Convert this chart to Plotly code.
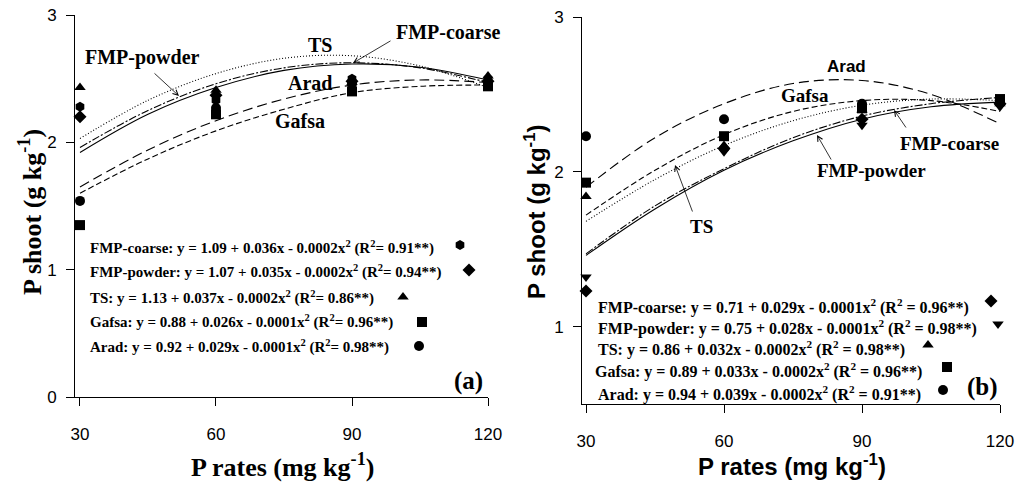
import plotly.graph_objects as go

W, H = 1015, 483

# ---------------- data ----------------
p_rates = [30, 60, 90, 120]
curve_x = [30, 45, 60, 75, 90, 105, 120]
series = ["FMP-coarse", "FMP-powder", "TS", "Gafsa", "Arad"]

# panel (a) observed values
a_fmp_coarse = [2.28, 2.33, 2.50, 2.50]
a_fmp_powder = [2.20, 2.37, 2.48, 2.48]
a_ts = [2.43, 2.41, 2.47, 2.52]
a_gafsa = [1.35, 2.22, 2.40, 2.44]
a_arad = [1.54, 2.27, 2.46, 2.46]
# panel (a) fitted curves
a_fit_fmp_coarse = [1.92, 2.22, 2.43, 2.565, 2.615, 2.59, 2.49]
a_fit_fmp_powder = [1.96, 2.25, 2.46, 2.585, 2.625, 2.585, 2.47]
a_fit_ts = [2.03, 2.33, 2.54, 2.66, 2.68, 2.60, 2.43]
a_fit_gafsa = [1.60, 1.87, 2.09, 2.26, 2.39, 2.44, 2.45]
a_fit_arad = [1.65, 1.94, 2.17, 2.34, 2.45, 2.49, 2.47]

# panel (b) observed values
b_fmp_coarse = [1.23, 2.15, 2.34, 2.44]
b_fmp_powder = [1.32, 2.13, 2.30, 2.42]
b_ts = [1.84, 2.17, 2.40, 2.44]
b_gafsa = [1.93, 2.23, 2.41, 2.47]
b_arad = [2.23, 2.34, 2.44, 2.45]
# panel (b) fitted curves
b_fit_fmp_coarse = [1.46, 1.76, 2.01, 2.20, 2.34, 2.42, 2.45]
b_fit_fmp_powder = [1.47, 1.78, 2.02, 2.22, 2.36, 2.44, 2.48]
b_fit_ts = [1.68, 1.95, 2.17, 2.33, 2.43, 2.47, 2.46]
b_fit_gafsa = [1.72, 2.01, 2.24, 2.39, 2.46, 2.46, 2.39]
b_fit_arad = [1.90, 2.22, 2.44, 2.57, 2.59, 2.50, 2.31]

a_equations = [
    "FMP-coarse: y = 1.09 + 0.036x - 0.0002x<sup>2</sup> (R<sup>2</sup>= 0.91**)",
    "FMP-powder: y = 1.07 + 0.035x - 0.0002x<sup>2</sup> (R<sup>2</sup>= 0.94**)",
    "TS: y = 1.13 + 0.037x - 0.0002x<sup>2</sup> (R<sup>2</sup>= 0.86**)",
    "Gafsa: y = 0.88 + 0.026x - 0.0001x<sup>2</sup> (R<sup>2</sup>= 0.96**)",
    "Arad: y = 0.92 + 0.029x - 0.0001x<sup>2</sup> (R<sup>2</sup>= 0.98**)",
]
b_equations = [
    "FMP-coarse: y = 0.71 + 0.029x - 0.0001x<sup>2</sup> (R<sup>2</sup> = 0.96**)",
    "FMP-powder: y = 0.75 + 0.028x - 0.0001x<sup>2</sup> (R<sup>2</sup> = 0.98**)",
    "TS: y = 0.86 + 0.032x - 0.0002x<sup>2</sup> (R<sup>2</sup> = 0.98**)",
    "Gafsa: y = 0.89 + 0.033x - 0.0002x<sup>2</sup> (R<sup>2</sup> = 0.96**)",
    "Arad: y = 0.94 + 0.039x - 0.0002x<sup>2</sup> (R<sup>2</sup> = 0.91**)",
]
x_ticks = [30, 60, 90, 120]
a_y_ticks = [0, 1, 2, 3]
b_y_ticks = [1, 2, 3]

# ---------------- styles / layout ----------------
SERIF = "Liberation Serif, Times New Roman, Times, DejaVu Serif, serif"
SANS = "Liberation Sans, Arial, Helvetica, sans-serif"
a_symbols = ["hexagon", "diamond", "triangle-up", "square", "circle"]
b_symbols = ["diamond", "triangle-down", "triangle-up", "square", "circle"]
dashes = ["solid", "8px,2px,2px,2px", "1px,2px", "6px,3px", "10px,5px"]
MSIZE = 10

# plot areas in pixels: (left, right, top, bottom) and axis ranges
A_BOX, A_XR, A_YR = (75, 488, 15, 397), [28.9, 120], [0, 3]
B_BOX, B_XR, B_YR = (582, 1000, 17, 404), [29.13, 120], [0.5, 3]


def px(xp, yp):
    return xp / W, 1 - yp / H


def px_to_data(xp, yp, box, xr, yr):
    l, r, t, b = box
    x = xr[0] + (xp - l) / (r - l) * (xr[1] - xr[0])
    y = yr[1] - (yp - t) / (b - t) * (yr[1] - yr[0])
    return x, y


fig = go.Figure()

a_obs = [a_fmp_coarse, a_fmp_powder, a_ts, a_gafsa, a_arad]
a_fit = [a_fit_fmp_coarse, a_fit_fmp_powder, a_fit_ts, a_fit_gafsa, a_fit_arad]
b_obs = [b_fmp_coarse, b_fmp_powder, b_ts, b_gafsa, b_arad]
b_fit = [b_fit_fmp_coarse, b_fit_fmp_powder, b_fit_ts, b_fit_gafsa, b_fit_arad]

for i, name in enumerate(series):
    fig.add_trace(go.Scatter(x=curve_x, y=a_fit[i], mode="lines", line_shape="spline",
                             line=dict(color="black", width=1.1, dash=dashes[i]),
                             xaxis="x", yaxis="y", showlegend=False))
    fig.add_trace(go.Scatter(x=p_rates, y=a_obs[i], mode="markers",
                             marker=dict(symbol=a_symbols[i], size=MSIZE, color="black"),
                             xaxis="x", yaxis="y", showlegend=False, cliponaxis=False))
    fig.add_trace(go.Scatter(x=curve_x, y=b_fit[i], mode="lines", line_shape="spline",
                             line=dict(color="black", width=1.1, dash=dashes[i]),
                             xaxis="x2", yaxis="y2", showlegend=False))
    fig.add_trace(go.Scatter(x=p_rates, y=b_obs[i], mode="markers",
                             marker=dict(symbol=b_symbols[i], size=MSIZE, color="black"),
                             xaxis="x2", yaxis="y2", showlegend=False, cliponaxis=False))

# legend keys beside the equations (pixel positions converted to each panel's axes)
a_key_px = [(460, 245), (469, 270), (403, 297), (422, 322), (419, 346)]
b_key_px = [(991, 301), (998, 324), (928, 345), (947, 367), (943, 390)]
for (kx, ky), s in zip(a_key_px, a_symbols):
    dx, dy = px_to_data(kx, ky, A_BOX, A_XR, A_YR)
    fig.add_trace(go.Scatter(x=[dx], y=[dy], mode="markers",
                             marker=dict(symbol=s, size=MSIZE, color="black"),
                             xaxis="x", yaxis="y", showlegend=False, cliponaxis=False))
for (kx, ky), s in zip(b_key_px, b_symbols):
    dx, dy = px_to_data(kx, ky, B_BOX, B_XR, B_YR)
    fig.add_trace(go.Scatter(x=[dx], y=[dy], mode="markers",
                             marker=dict(symbol=s, size=MSIZE, color="black"),
                             xaxis="x2", yaxis="y2", showlegend=False, cliponaxis=False))

axis_common = dict(showline=True, linecolor="black", linewidth=1, ticks="outside",
                   ticklen=8, tickcolor="black", tickwidth=1, showgrid=False,
                   zeroline=False, tickfont=dict(family=SANS, size=17, color="black"))

fig.update_layout(
    width=W, height=H, margin=dict(l=0, r=0, t=0, b=0, autoexpand=False),
    plot_bgcolor="white", paper_bgcolor="white", showlegend=False,
    xaxis=dict(domain=[A_BOX[0] / W, A_BOX[1] / W], range=A_XR, tickvals=x_ticks,
               anchor="y", ticklabelstandoff=14, **axis_common),
    yaxis=dict(domain=[1 - A_BOX[3] / H, 1 - A_BOX[2] / H], range=A_YR, tickvals=a_y_ticks,
               anchor="x", ticklabelstandoff=6, **axis_common),
    xaxis2=dict(domain=[B_BOX[0] / W, B_BOX[1] / W], range=B_XR, tickvals=x_ticks,
                anchor="y2", ticklabelstandoff=14, **axis_common),
    yaxis2=dict(domain=[1 - B_BOX[3] / H, 1 - B_BOX[2] / H], range=B_YR, tickvals=b_y_ticks,
                anchor="x2", ticklabelstandoff=6, **axis_common),
)

ann = []


def text(t, xp, yp, family, size, xanchor="center", angle=0):
    x, y = px(xp, yp)
    ann.append(dict(text="<b>" + t + "</b>", x=x, y=y, xref="paper", yref="paper",
                    showarrow=False, xanchor=xanchor, yanchor="middle", textangle=angle,
                    font=dict(family=family, size=size, color="black")))


def arrow(tail, head):
    hx, hy = px(*head)
    ann.append(dict(text="", x=hx, y=hy, xref="paper", yref="paper", showarrow=True,
                    ax=tail[0] - head[0], ay=tail[1] - head[1], axref="pixel", ayref="pixel",
                    arrowhead=5, arrowsize=1.3, arrowwidth=0.8, arrowcolor="black",
                    standoff=0, startstandoff=0))


# axis titles
text("P shoot (g kg<sup>-1</sup>)", 30, 212, SERIF, 26, angle=-90)
text("P rates (mg kg<sup>-1</sup>)", 282, 465, SERIF, 26)
text("P shoot (g kg<sup>-1</sup>)", 535, 212, SANS, 24, angle=-90)
text("P rates (mg kg<sup>-1</sup>)", 792, 465, SANS, 24)

# equations
for t, yp in zip(a_equations, [247, 271, 297, 321, 346]):
    text(t, 88, yp, SERIF, 15, xanchor="left")
for t, xp, yp in zip(b_equations, [596, 596, 596, 593, 596], [306, 327, 348, 370, 393]):
    text(t, xp, yp, SERIF, 16, xanchor="left")

# panel labels
text("(a)", 468, 381, SERIF, 25)
text("(b)", 982, 387, SERIF, 25)

# curve labels, panel (a)
text("FMP-powder", 142, 57, SERIF, 20)
text("TS", 320, 45, SERIF, 20)
text("FMP-coarse", 448, 32, SERIF, 20)
text("Arad", 310, 83, SERIF, 20)
text("Gafsa", 300, 121, SERIF, 20)
arrow((153, 72), (179, 96))
arrow((392, 40), (353, 63))

# curve labels, panel (b)
text("Arad", 846, 67, SANS, 17)
text("Gafsa", 805, 95, SERIF, 19)
text("FMP-coarse", 949, 143, SERIF, 19)
text("FMP-powder", 871, 170, SERIF, 19)
text("TS", 701, 227, SERIF, 19)
arrow((693, 213), (675, 165))
arrow((907, 129), (894, 110))
arrow((832, 161), (817, 135))

fig.update_layout(annotations=ann)
fig.write_html(
    "out.html",
    config={"displayModeBar": False},
    post_script="document.body.style.margin='0';document.body.style.overflow='hidden';",
)
